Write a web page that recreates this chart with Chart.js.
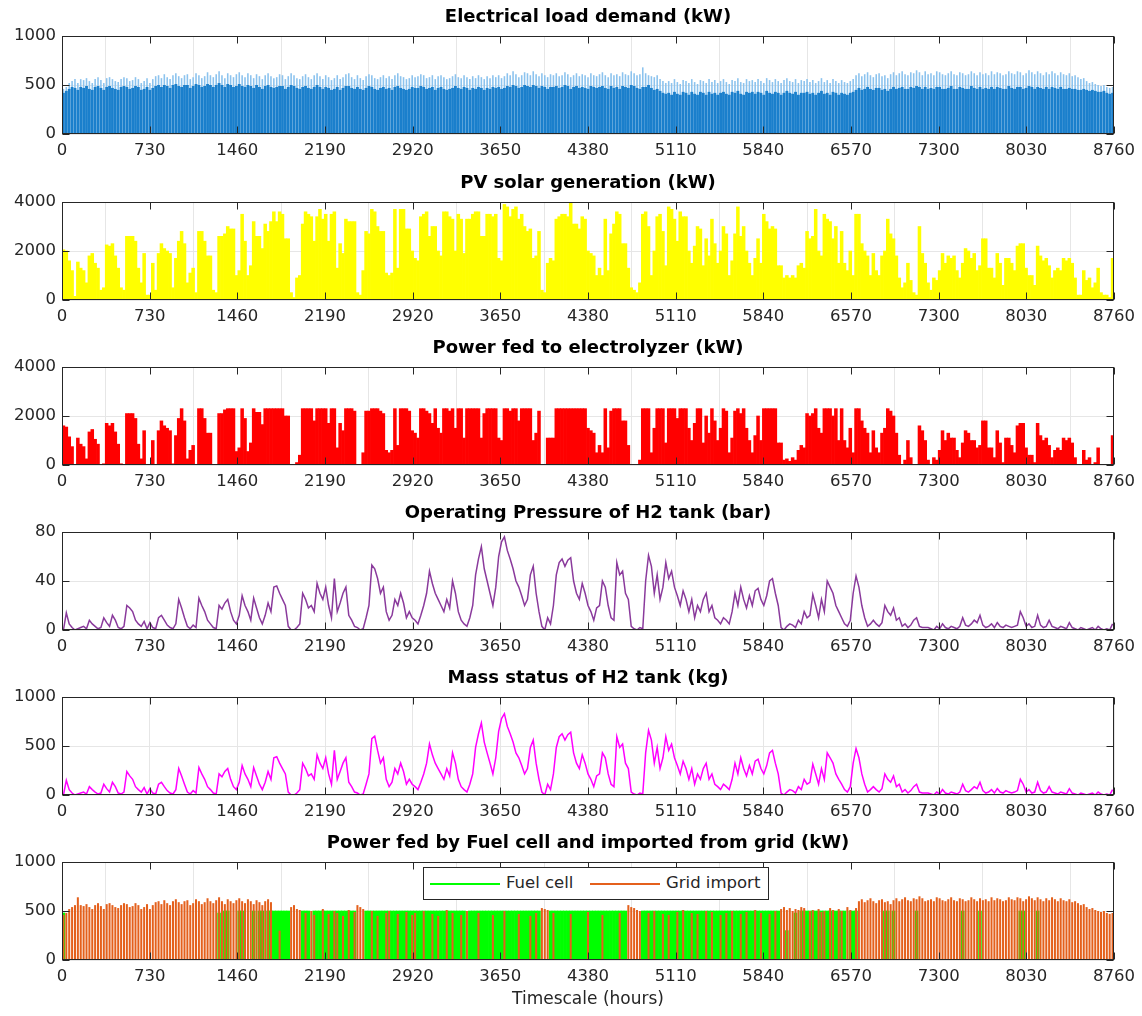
<!DOCTYPE html>
<html><head><meta charset="utf-8">
<script src="https://cdn.jsdelivr.net/npm/chart.js@4.4.1/dist/chart.umd.min.js"></script>
<style>
html,body{margin:0;padding:0;background:#fff;}
#wrap{position:relative;width:1142px;height:1016px;overflow:hidden;background:#fff;}
#wrap canvas{position:absolute;left:0;}
#legend{position:absolute;left:423px;top:867px;width:344px;height:31px;border:1px solid #262626;background:#fff;font-family:"DejaVu Sans",sans-serif;font-size:16.5px;color:#262626;}
#legend .ln{position:absolute;top:15px;height:2px;width:70px;}
#legend .tx{position:absolute;top:5px;line-height:20px;white-space:nowrap;}
</style></head><body>
<div id="wrap">
<canvas id="c1" width="1142" height="162" style="top:2px"></canvas>
<canvas id="c2" width="1142" height="162" style="top:168px"></canvas>
<canvas id="c3" width="1142" height="162" style="top:333px"></canvas>
<canvas id="c4" width="1142" height="162" style="top:498px"></canvas>
<canvas id="c5" width="1142" height="162" style="top:663px"></canvas>
<canvas id="c6" width="1142" height="188" style="top:828px"></canvas>
<div id="legend">
  <span class="ln" style="left:6px;background:#00ff00"></span><span class="tx" style="left:82px">Fuel cell</span>
  <span class="ln" style="left:166px;background:#e4601c"></span><span class="tx" style="left:242px">Grid import</span>
</div>
</div>
<script>
// ---------- data (daily values, one per day, 365 days) ----------
const xTicks = [0,730,1460,2190,2920,3650,4380,5110,5840,6570,7300,8030,8760];

const loadPeak = [
460,480,520,540,560,520,560,550,570,540, 520,560,580,550,520,570,580,560,540,530,
560,580,570,540,550,580,560,520,540,570, 520,560,590,600,570,610,580,560,600,620,
590,570,600,610,560,580,620,600,570,590, 630,600,580,610,640,600,570,620,600,580,
610,630,600,580,620,600,570,610,590,560, 600,620,590,570,580,610,600,560,590,620,
600,570,560,590,610,580,560,600,620,590, 560,600,580,550,570,600,560,580,610,620,
580,560,600,570,550,590,610,600,570,560, 580,600,570,590,560,600,620,590,580,560,
570,600,580,590,610,600,570,580,600,560, 590,600,580,560,570,590,610,580,570,600,
580,560,590,570,600,580,560,590,570,600, 580,600,570,590,620,600,640,610,580,600,
630,620,600,640,610,590,620,600,580,610, 600,620,590,600,630,610,580,600,620,590,
610,600,580,620,600,590,610,630,600,580, 620,600,610,590,630,610,600,640,620,600,
610,680,620,600,590,580,600,560,540,520, 540,520,560,530,510,550,540,520,560,530,
510,550,540,520,560,530,550,520,540,560, 530,510,550,540,570,530,520,560,540,550,
530,560,540,520,570,550,530,560,540,520, 550,570,540,530,560,520,550,540,560,530,
550,520,540,570,530,550,520,560,540,520, 550,530,520,540,560,600,620,590,610,630,
600,580,610,620,590,600,570,610,630,600, 620,640,610,600,630,620,650,630,600,640,
610,620,600,640,630,610,600,620,640,610, 600,630,620,600,610,640,620,600,630,610,
620,600,640,610,630,620,600,610,640,620, 610,640,630,600,620,650,630,610,640,620,
600,630,610,640,620,600,630,610,600,620, 590,600,580,560,570,540,520,530,510,500,
490,500,480,470,480];

const loadBase = [
420,440,460,480,470,450,480,470,490,460, 450,480,490,470,450,480,490,470,460,450,
480,490,480,460,470,490,480,450,460,480, 450,470,490,500,480,500,490,470,500,510,
490,480,500,500,470,490,510,500,480,490, 510,500,480,500,520,500,480,510,500,480,
490,510,490,480,500,490,470,500,480,460, 490,500,480,470,480,490,490,460,480,500,
490,470,460,480,490,470,460,480,500,480, 460,480,470,450,460,480,450,470,490,490,
470,460,480,460,450,470,490,480,460,450, 470,480,460,470,450,480,490,470,460,450,
460,480,470,470,490,480,460,470,480,450, 470,480,460,450,460,470,490,470,460,480,
470,450,470,460,480,470,450,470,460,480, 470,480,460,470,490,480,500,490,470,480,
500,490,480,500,490,470,490,480,460,480, 480,490,470,480,500,490,460,480,490,470,
480,470,460,490,480,470,480,490,470,460, 490,470,480,460,490,480,470,500,490,470,
460,480,480,500,470,450,460,440,420,410, 420,400,430,410,400,430,420,400,430,410,
400,430,420,400,430,410,420,400,420,430, 410,400,430,420,440,410,400,430,420,430,
410,430,420,400,440,420,410,430,420,400, 420,440,420,410,430,400,420,420,430,410,
420,400,420,440,410,420,400,430,420,400, 420,410,400,420,430,450,470,450,460,480,
460,450,470,470,450,460,440,460,480,460, 470,480,460,460,480,470,490,480,460,480,
460,470,460,480,480,460,460,470,490,460, 460,480,470,460,460,490,470,460,480,460,
470,460,480,460,480,470,460,460,490,470, 460,480,480,460,470,490,480,460,480,470,
460,480,460,480,470,460,480,460,460,470, 460,460,450,450,460,450,440,450,440,430,
430,440,420,410,420];

const pvGen = [
2050,2000,1600,1200,150,1550,1300,1200,700,1800, 1900,1500,1300,400,500,2250,2200,2300,1800,1300,
500,400,2600,2600,2600,2400,1300,700,1900,200, 200,1500,400,1900,2300,2100,2000,1900,500,1700,
2400,2800,2300,700,1100,1300,300,2800,2800,2400, 1800,1800,400,300,2600,2600,2700,3000,2900,2900,
1000,1200,3500,2400,1000,1400,3200,2600,2600,2100, 3100,2800,3200,3600,3200,3600,3500,2500,2500,300,
100,900,1000,3100,3600,3500,3400,2400,3400,3700, 3300,3500,2400,3500,3600,1300,2300,1900,3300,3200,
3200,3200,300,200,1200,2800,2700,3700,3600,3000, 2800,2800,1100,1000,1100,3700,1300,3700,3700,2900,
2900,2000,1700,1600,3400,3500,3600,2600,3000,3000, 2000,1800,3600,3600,3400,3300,2000,3500,3300,1900,
3300,3300,3500,3600,3600,2600,2600,3500,3500,3400, 3500,1700,1600,3900,3800,3400,3700,3800,3300,3500,
3000,2800,2900,1700,1800,2800,400,300,1500,1700, 1600,3300,3400,3500,3500,3400,4000,3100,3100,2900,
3400,3300,2000,1900,1800,1000,1300,1000,3300,1200, 2700,3100,3600,3500,2300,2300,1300,500,400,300,
700,3500,3600,3000,1000,2000,3400,3500,2800,1400, 3800,3700,3300,2400,3600,3400,3400,2000,1500,2200,
3000,2900,1400,2500,1800,3300,2300,1500,2000,3000, 2700,1000,1600,2700,3800,2600,3000,2000,1500,1000,
1700,2500,1500,3500,3200,2900,3000,2900,1400,1400, 900,1000,900,1000,900,1400,1500,1300,2800,2500,
2600,3700,2000,1800,3500,3300,3200,2500,3000,1500, 2800,1500,1200,2000,1000,3500,3500,2300,2000,1800,
1000,1900,1200,1000,1800,2000,3300,2700,2500,1800, 900,500,700,1500,800,300,200,3000,1900,1500,
700,400,900,800,1200,1900,1500,1800,1700,1800, 1200,900,1500,2100,2000,1700,1900,1200,1400,2500,
2500,1300,1300,900,1900,1500,600,1700,1700,1500, 1200,2200,2300,2300,1300,1000,1000,600,2200,1800,
1600,1700,1400,900,1200,1300,1200,1700,1600,1700, 1500,900,200,200,1200,800,900,500,700,1300,
300,200,200,100,1700];

const electrolyzer = [
1600,1550,1150,750,0,1100,850,750,250,1350, 1450,1050,850,0,50,1700,1600,1700,1350,850,
50,0,2100,2100,2100,1900,850,250,1400,0, 0,1000,0,1400,1800,1600,1500,1400,50,1200,
1900,2300,1800,250,600,800,0,2300,2300,1900, 1300,1300,0,0,2100,2100,2250,2300,2300,2300,
550,700,2300,1900,550,900,2300,2150,2150,1650, 2300,2300,2300,2300,2300,2300,2300,2000,2000,0,
0,100,400,2300,2300,2300,2300,1800,2300,2300, 2300,2300,1700,2300,2300,700,1700,1400,2300,2300,
2300,2200,0,0,500,2200,2200,2300,2300,2300, 2200,2100,600,500,600,2300,800,2300,2300,2300,
2200,1400,1300,1100,2300,2300,2200,2100,1700,2300, 1500,1300,2300,2300,2200,2300,1500,2300,2300,1100,
2300,2300,2300,2300,2300,1100,2100,2300,2300,2300, 2300,1100,1000,2300,2300,2200,2300,2300,1800,2300,
2300,2300,2300,1000,1300,2200,0,0,1100,1100, 1100,2300,2300,2300,2300,2300,2300,2300,2300,2300,
2300,2300,1500,1400,1300,500,800,500,2300,700, 2200,2300,2300,2300,1800,1800,800,0,0,0,
200,2300,2300,2300,500,1500,2300,2300,2300,900, 2300,2300,2300,1900,2300,2300,2300,1500,1000,1700,
2300,2300,900,2000,1300,2300,1800,1000,1500,2300, 2200,500,1100,2200,2300,2100,2300,1500,1000,500,
1200,2000,1000,2300,2300,2300,2300,2300,900,900, 200,250,150,300,200,600,800,700,2100,2000,
2100,2300,1500,1300,2300,2300,2300,2000,2300,1000, 2300,1000,700,1500,500,2300,2300,1800,1500,1300,
500,1400,700,500,1300,1500,2300,2200,2000,1300, 400,0,200,1000,300,0,0,1600,1400,1000,
200,0,300,200,600,1400,1000,1300,1100,1100, 600,300,900,1400,1300,1000,1000,700,800,1800,
1800,700,700,300,1400,900,100,1100,1100,800, 500,1600,1700,1700,700,400,400,100,1700,1200,
1000,1100,800,300,600,700,600,1100,1000,1100, 900,300,0,0,600,200,300,0,100,700,
0,0,0,0,1200];

const pressureBar = [
0,14,5,2,0,1,2,3,1,8, 5,3,1,2,10,6,3,12,8,2,
1,3,20,18,15,8,5,3,7,1, 6,2,1,10,12,8,4,2,1,5,
25,18,10,3,1,4,2,26,20,15, 8,5,2,1,20,17,22,25,15,8,
5,12,28,20,15,8,26,18,10,5, 12,22,15,35,36,30,25,20,3,0,
0,2,5,30,25,18,20,15,38,30, 25,35,20,10,42,15,22,30,35,12,
8,3,2,0,1,10,20,53,50,42, 30,35,15,8,12,25,20,30,22,10,
15,10,8,5,12,20,30,48,38,30, 25,20,15,25,18,40,30,15,8,5,
3,10,20,45,58,68,50,40,30,20, 35,60,72,76,65,58,50,40,35,28,
20,25,45,52,30,15,3,0,10,5, 20,45,55,58,52,57,59,40,30,25,
38,30,20,15,8,18,20,40,35,20, 10,8,55,45,48,30,25,3,1,0,
2,1,40,61,52,30,45,25,35,55, 42,48,35,28,20,32,25,15,25,10,
20,15,25,30,15,20,10,8,5,10, 8,5,15,30,20,35,25,18,28,20,
32,34,25,20,28,40,42,30,20,2, 0,3,5,4,2,8,5,15,10,12,
29,20,10,25,15,40,35,30,20,15, 10,5,3,8,30,44,35,20,10,3,
5,8,5,3,6,20,15,12,18,8, 10,3,5,2,4,8,10,3,2,2,
2,1,0,3,1,5,2,1,3,2, 1,3,10,4,3,5,8,6,12,4,
2,3,5,2,6,3,2,4,3,2, 3,4,15,10,3,5,2,3,12,4,
2,3,8,3,2,1,3,2,1,6, 2,1,0,2,1,0,1,2,0,3,
1,0,1,0,5];

const massKg = [
0,150,55,20,0,10,20,30,10,85, 55,30,10,20,110,65,30,130,85,20,
10,30,240,195,160,85,55,30,75,10, 65,20,10,110,130,85,45,20,10,55,
270,195,110,30,10,45,20,280,215,160, 85,55,20,10,215,185,240,270,160,85,
55,130,300,215,160,85,280,195,110,55, 130,240,160,380,390,325,270,215,30,0,
0,20,55,325,270,195,215,160,410,325, 270,380,215,110,455,160,240,325,380,130,
85,30,20,0,10,110,215,575,600,455, 325,380,160,85,130,270,215,325,240,110,
160,110,85,55,130,215,325,520,410,325, 270,215,160,270,195,430,325,160,85,55,
30,110,215,485,625,735,540,430,325,215, 380,650,780,830,700,625,540,430,380,300,
215,270,485,560,325,160,30,0,110,55, 215,485,595,625,560,615,640,430,325,270,
410,325,215,160,85,195,215,430,380,215, 110,85,595,485,520,325,270,30,10,0,
20,10,430,660,560,325,485,270,380,595, 455,520,380,300,215,345,270,160,270,110,
215,160,270,325,160,215,110,85,55,110, 85,55,160,325,215,380,270,195,300,215,
345,365,270,215,300,430,455,325,215,20, 0,30,55,45,20,85,55,160,110,130,
315,215,110,270,160,430,380,325,215,160, 110,55,30,85,325,475,380,215,110,30,
55,85,55,30,65,215,160,130,195,85, 110,30,55,20,45,85,110,30,20,20,
20,10,0,30,10,55,20,10,30,20, 10,30,110,45,30,55,85,65,130,45,
20,30,55,20,65,30,20,45,30,20, 30,45,160,110,30,55,20,30,130,45,
20,30,85,30,20,10,30,20,10,65, 20,10,0,20,10,0,10,20,0,30,
10,0,10,0,55];

const fuelCell = [
480,0,0,0,0,0,0,0,0,0, 0,0,0,0,0,0,0,0,0,0,
0,0,0,0,0,0,0,0,0,0, 0,0,0,0,0,0,0,0,0,0,
0,0,0,0,0,0,0,0,0,0, 0,0,0,0,480,0,500,500,0,0,
0,500,500,0,0,0,500,0,500,500, 0,500,500,500,500,500,500,500,500,0,
0,0,0,500,500,500,0,500,500,500, 500,500,500,500,500,500,500,500,500,500,
500,500,0,0,0,500,500,500,500,500, 500,500,500,500,500,500,500,500,500,500,
500,500,500,500,500,500,500,500,500,500, 500,500,500,500,500,500,500,500,500,500,
0,500,500,500,500,500,500,500,500,500, 500,500,500,500,500,500,500,500,500,500,
500,500,500,500,500,500,0,0,0,500, 500,500,500,500,500,500,500,500,500,500,
500,500,500,500,500,500,500,500,500,500, 500,500,500,500,500,500,0,0,0,0,
0,500,500,500,500,500,500,500,500,500, 500,500,500,500,500,500,500,500,500,500,
500,500,500,500,500,500,500,500,500,500, 500,500,500,500,500,500,500,500,500,500,
500,500,500,500,500,500,500,500,500,0, 0,300,0,0,480,0,500,500,500,500,
500,500,500,500,500,500,500,500,500,500, 500,500,0,500,500,500,0,0,0,0,
0,0,0,0,0,500,500,0,500,0, 0,0,0,0,0,0,500,0,0,0,
0,0,0,0,0,0,0,0,0,0, 0,0,500,0,0,0,0,0,500,0,
0,0,0,0,0,0,0,0,0,0, 0,0,500,500,0,0,0,0,500,0,
0,0,0,0,0,0,0,0,0,0, 0,0,0,0,0,0,0,0,0,0,
0,0,0,0,0];

const gridImport = [
460,480,520,540,560,640,560,550,570,540, 520,560,580,550,520,570,580,560,540,530,
560,580,570,540,550,580,560,520,540,570, 520,560,590,600,570,610,580,560,600,620,
590,570,600,610,560,580,620,600,570,590, 630,600,580,610,640,600,570,620,600,580,
610,630,600,580,620,600,570,610,590,560, 600,620,590,0,0,300,0,0,0,540,
560,520,510,0,480,0,500,460,0,0, 520,0,470,0,500,480,0,450,0,510,
0,490,560,540,520,0,0,500,0,450, 0,0,480,500,0,0,470,0,0,490,
0,460,480,0,0,500,0,0,470,0, 450,0,0,510,0,480,0,0,460,0,
500,0,0,0,480,0,0,0,0,460, 0,0,0,500,0,0,0,0,470,0,
0,0,450,0,480,0,530,520,510,0, 480,0,0,0,0,0,470,0,0,0,
0,0,490,0,0,0,0,460,0,0, 0,0,0,480,0,0,560,540,530,510,
500,0,0,480,0,500,0,0,470,0, 460,0,0,490,0,510,0,0,480,0,
470,0,0,500,0,490,0,0,460,0, 480,0,500,0,0,470,0,490,0,0,
510,0,480,0,0,470,0,500,0,520, 540,510,530,500,520,510,540,530,0,500,
510,0,520,490,500,0,530,510,0,520, 500,0,540,510,0,530,600,620,590,610,
630,600,580,610,620,590,600,570,610,630, 600,620,640,610,600,630,620,650,630,600,
610,620,600,640,630,610,600,620,640,610, 600,630,620,600,610,640,620,600,630,610,
620,600,640,610,630,620,600,610,640,620, 610,640,630,600,620,650,630,610,640,620,
600,630,610,640,620,600,630,610,600,620, 590,600,580,560,570,540,520,530,510,500,
490,500,480,470,480];

// ---------- rendering ----------
const FONT = '"DejaVu Sans", "Liberation Sans", sans-serif';
Chart.defaults.font.family = FONT;
Chart.defaults.color = '#262626';

const dayHour = Array.from({length: 365}, (_, d) => d * 24 + 12);
const pts = arr => arr.map((v, d) => ({x: dayHour[d], y: v}));

const boxPlugin = {
  id: 'matlabBox',
  afterDatasetsDraw(chart) {
    const {ctx, chartArea, scales} = chart;
    const L = Math.round(chartArea.left) + 0.5, R = Math.round(chartArea.right) - 0.5;
    const T = Math.round(chartArea.top) + 0.5, B = Math.round(chartArea.bottom) - 0.5;
    ctx.save();
    ctx.strokeStyle = '#262626';
    ctx.lineWidth = 1;
    ctx.beginPath();
    scales.x.ticks.forEach(t => {
      const p = Math.round(scales.x.getPixelForValue(t.value)) + 0.5;
      ctx.moveTo(p, B); ctx.lineTo(p, B - 7);
      ctx.moveTo(p, T); ctx.lineTo(p, T + 7);
    });
    scales.y.ticks.forEach(t => {
      const p = Math.round(scales.y.getPixelForValue(t.value)) + 0.5;
      ctx.moveTo(L, p); ctx.lineTo(L + 7, p);
      ctx.moveTo(R, p); ctx.lineTo(R - 7, p);
    });
    ctx.stroke();
    ctx.strokeRect(L, T, R - L, B - T);
    ctx.restore();
  }
};

function makeChart(id, type, title, yMax, yStep, datasets, xTitle) {
  const xScale = {
    type: 'linear', min: 0, max: 8760, offset: false,
    afterBuildTicks: s => { s.ticks = xTicks.map(v => ({value: v})); },
    ticks: {autoSkip: false, maxRotation: 0, minRotation: 0, padding: 7, color: '#262626',
            font: {family: FONT, size: 16.5}, callback: v => String(v)},
    grid: {color: '#e6e6e6', drawTicks: false, lineWidth: 1},
    border: {display: false},
    afterFit: s => { s.height = xTitle ? 56 : 30; }
  };
  if (xTitle) {
    xScale.title = {display: true, text: xTitle, color: '#262626',
                    font: {family: FONT, size: 17}, padding: {top: 0, bottom: 6}};
  }
  return new Chart(document.getElementById(id), {
    type,
    data: {datasets},
    options: {
      responsive: false, animation: false, devicePixelRatio: 1,
      layout: {padding: {left: 0, right: 26, top: 0, bottom: 0}},
      plugins: {
        legend: {display: false}, tooltip: {enabled: false},
        title: {display: true, text: title, fullSize: false, color: '#000',
                font: {family: FONT, size: 18, weight: 'bold', lineHeight: 22 / 18},
                padding: {top: 4, bottom: 8}}
      },
      scales: {
        x: xScale,
        y: {
          type: 'linear', min: 0, max: yMax,
          ticks: {stepSize: yStep, padding: 6, color: '#262626',
                  font: {family: FONT, size: 16.5}, callback: v => String(v)},
          grid: {color: '#e6e6e6', drawTicks: false, lineWidth: 1},
          border: {display: false},
          afterFit: s => { s.width = 62; }
        }
      }
    },
    plugins: [boxPlugin]
  });
}

const barDs = (data, color, pct, order, label) => ({
  type: 'bar', label, data: pts(data), backgroundColor: color, borderWidth: 0,
  barPercentage: pct, categoryPercentage: 1, grouped: false, order
});
const lineDs = (data, color, label) => ({
  type: 'line', label, data: pts(data), borderColor: color, borderWidth: 1.5,
  pointRadius: 0, tension: 0, fill: false
});

makeChart('c1', 'bar', 'Electrical load demand (kW)', 1000, 500, [
  barDs(loadBase, '#1a7fcc', 0.97, 0, 'Load base'),
  barDs(loadPeak, '#8cc3ee', 0.55, 1, 'Load peak')
]);
makeChart('c2', 'bar', 'PV solar generation (kW)', 4000, 2000, [
  barDs(pvGen, '#ffff00', 1, 0, 'PV')
]);
makeChart('c3', 'bar', 'Power fed to electrolyzer (kW)', 4000, 2000, [
  barDs(electrolyzer, '#ff0000', 1, 0, 'Electrolyzer')
]);
makeChart('c4', 'line', 'Operating Pressure of H2 tank (bar)', 80, 40, [
  lineDs(pressureBar, '#8a3a9c', 'Pressure')
]);
makeChart('c5', 'line', 'Mass status of H2 tank (kg)', 1000, 500, [
  lineDs(massKg, '#ff00ff', 'Mass')
]);
makeChart('c6', 'bar', 'Power fed by Fuel cell and imported from grid (kW)', 1000, 500, [
  barDs(fuelCell, '#00ff00', 1, 1, 'Fuel cell'),
  barDs(gridImport, '#e4601c', 0.7, 0, 'Grid import')
], 'Timescale (hours)');
</script>
</body></html>
